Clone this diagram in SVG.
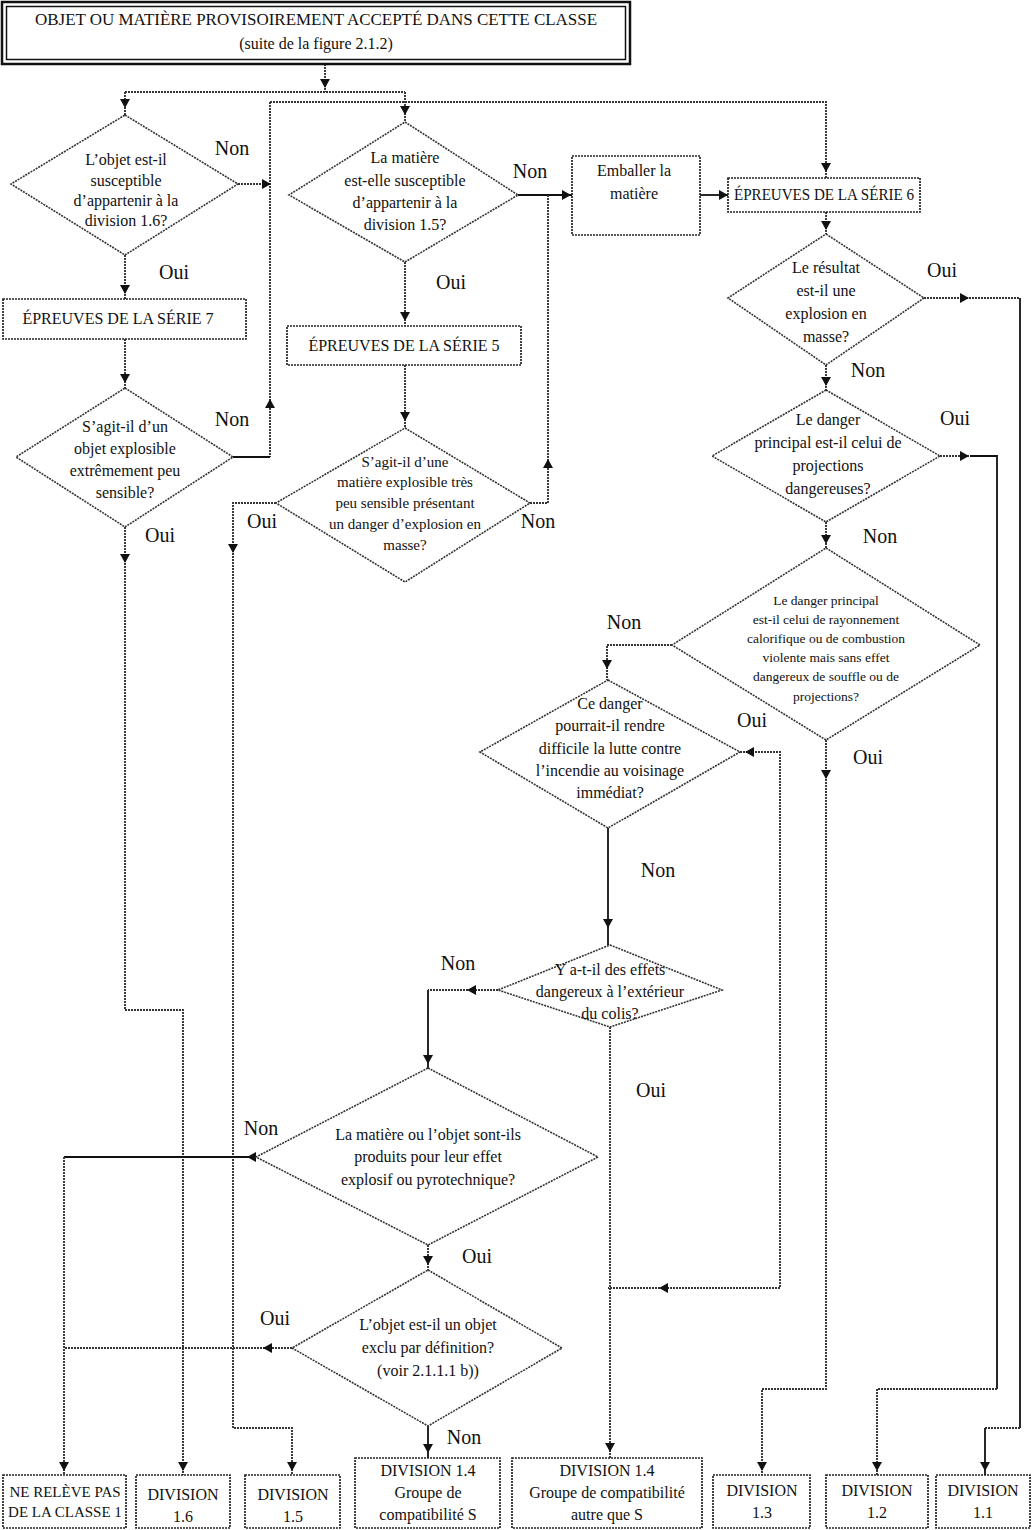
<svg xmlns="http://www.w3.org/2000/svg" xmlns:xlink="http://www.w3.org/1999/xlink" width="1036" height="1530" viewBox="0 0 1036 1530">
<style>
text{font-family:"Liberation Serif","DejaVu Serif",serif;fill:#111;text-anchor:middle}
.t{font-size:16px}
.s{font-size:15px}
.xs{font-size:13.5px}
.lbl{font-size:20px}
.shape{fill:#fff;stroke:#333;stroke-width:1.6;stroke-dasharray:2 1}
.box{fill:#fff;stroke:#222;stroke-width:1.7;stroke-dasharray:2 1}
.c{fill:none;stroke:#333;stroke-width:1.9;stroke-dasharray:2 1}
.cs{fill:none;stroke:#111;stroke-width:1.8}
.ah{fill:#111}
</style>
<defs>
<path id="ad" d="M-5,-8 L5,-8 L0,1 Z"/>
</defs>
<rect width="1036" height="1530" fill="#fff"/>

<g id="connectors">
<path class="c" d="M325,64 V92 M125,92 H405 M125,92 V115 M405,92 V122"/>
<path class="c" d="M270,102 H826 V178 M270,102 V457"/>
<path class="cs" d="M233,457 H270"/>
<path class="c" d="M238,184 H270"/>
<path class="c" d="M125,255 V299"/>
<path class="c" d="M125,339 V388"/>
<path class="c" d="M125,527 V1010 H183 V1475"/>
<path class="c" d="M405,262 V326"/>
<path class="c" d="M405,365 V428"/>
<path class="cs" d="M518,195 H572"/>
<path class="c" d="M530,503 H548 V195"/>
<path class="c" d="M276,503 H233 V1428 H292 V1475"/>
<path class="cs" d="M700,195 H728"/>
<path class="c" d="M826,212 V234"/>
<path class="c" d="M924,298 H1020"/>
<path class="cs" d="M1020,298 V1428"/>
<path class="c" d="M1020,1428 H985"/>
<path class="cs" d="M985,1428 V1475"/>
<path class="c" d="M826,365 V390"/>
<path class="c" d="M940,456 H970"/>
<path class="cs" d="M970,456 H997 V1389"/>
<path class="c" d="M997,1389 H877 V1475"/>
<path class="c" d="M826,522 V548"/>
<path class="c" d="M826,740 V1389 H762 V1475"/>
<path class="c" d="M672,645 H607 V680"/>
<path class="c" d="M740,752 H780 V1288 H608"/>
<path class="cs" d="M608,828 V945"/>
<path class="c" d="M498,990 H428"/>
<path class="cs" d="M428,990 V1068"/>
<path class="c" d="M610,1027 V1458"/>
<path class="cs" d="M255,1157 H64"/>
<path class="c" d="M64,1157 V1475"/>
<path class="c" d="M428,1245 V1270"/>
<path class="c" d="M292,1348 H64"/>
<path class="cs" d="M428,1426 V1458"/>
<!-- arrowheads -->
<use class="ah" xlink:href="#ad" transform="translate(325,87)"/>
<use class="ah" xlink:href="#ad" transform="translate(125,107)"/>
<use class="ah" xlink:href="#ad" transform="translate(405,114)"/>
<use class="ah" xlink:href="#ad" transform="translate(826,171)"/>
<use class="ah" xlink:href="#ad" transform="translate(270,400) rotate(180)"/>
<use class="ah" xlink:href="#ad" transform="translate(270,184) rotate(-90)"/>
<use class="ah" xlink:href="#ad" transform="translate(125,293)"/>
<use class="ah" xlink:href="#ad" transform="translate(125,382)"/>
<use class="ah" xlink:href="#ad" transform="translate(125,562)"/>
<use class="ah" xlink:href="#ad" transform="translate(183,1470)"/>
<use class="ah" xlink:href="#ad" transform="translate(405,320)"/>
<use class="ah" xlink:href="#ad" transform="translate(405,420)"/>
<use class="ah" xlink:href="#ad" transform="translate(570,195) rotate(-90)"/>
<use class="ah" xlink:href="#ad" transform="translate(548,460) rotate(180)"/>
<use class="ah" xlink:href="#ad" transform="translate(233,552)"/>
<use class="ah" xlink:href="#ad" transform="translate(292,1470)"/>
<use class="ah" xlink:href="#ad" transform="translate(727,195) rotate(-90)"/>
<use class="ah" xlink:href="#ad" transform="translate(826,229)"/>
<use class="ah" xlink:href="#ad" transform="translate(968,298) rotate(-90)"/>
<use class="ah" xlink:href="#ad" transform="translate(985,1470)"/>
<use class="ah" xlink:href="#ad" transform="translate(826,385)"/>
<use class="ah" xlink:href="#ad" transform="translate(968,456) rotate(-90)"/>
<use class="ah" xlink:href="#ad" transform="translate(877,1470)"/>
<use class="ah" xlink:href="#ad" transform="translate(826,543)"/>
<use class="ah" xlink:href="#ad" transform="translate(826,778)"/>
<use class="ah" xlink:href="#ad" transform="translate(762,1470)"/>
<use class="ah" xlink:href="#ad" transform="translate(607,668)"/>
<use class="ah" xlink:href="#ad" transform="translate(746,752) rotate(90)"/>
<use class="ah" xlink:href="#ad" transform="translate(660,1288) rotate(90)"/>
<use class="ah" xlink:href="#ad" transform="translate(608,927)"/>
<use class="ah" xlink:href="#ad" transform="translate(468,990) rotate(90)"/>
<use class="ah" xlink:href="#ad" transform="translate(428,1063)"/>
<use class="ah" xlink:href="#ad" transform="translate(610,1451)"/>
<use class="ah" xlink:href="#ad" transform="translate(248,1157) rotate(90)"/>
<use class="ah" xlink:href="#ad" transform="translate(64,1470)"/>
<use class="ah" xlink:href="#ad" transform="translate(428,1264)"/>
<use class="ah" xlink:href="#ad" transform="translate(264,1348) rotate(90)"/>
<use class="ah" xlink:href="#ad" transform="translate(428,1452)"/>
<!-- labels -->
<text class="lbl" x="232" y="155">Non</text>
<text class="lbl" x="174" y="279">Oui</text>
<text class="lbl" x="530" y="178">Non</text>
<text class="lbl" x="451" y="289">Oui</text>
<text class="lbl" x="232" y="426">Non</text>
<text class="lbl" x="160" y="542">Oui</text>
<text class="lbl" x="262" y="528">Oui</text>
<text class="lbl" x="538" y="528">Non</text>
<text class="lbl" x="942" y="277">Oui</text>
<text class="lbl" x="868" y="377">Non</text>
<text class="lbl" x="955" y="425">Oui</text>
<text class="lbl" x="880" y="543">Non</text>
<text class="lbl" x="624" y="629">Non</text>
<text class="lbl" x="868" y="764">Oui</text>
<text class="lbl" x="752" y="727">Oui</text>
<text class="lbl" x="658" y="877">Non</text>
<text class="lbl" x="458" y="970">Non</text>
<text class="lbl" x="651" y="1097">Oui</text>
<text class="lbl" x="261" y="1135">Non</text>
<text class="lbl" x="477" y="1263">Oui</text>
<text class="lbl" x="275" y="1325">Oui</text>
<text class="lbl" x="464" y="1444">Non</text>
</g>

<g id="title">
<rect x="2" y="2" width="628" height="62" fill="#fff" stroke="#111" stroke-width="2.5"/>
<rect x="6.5" y="6.5" width="619" height="53" fill="none" stroke="#111" stroke-width="1.5"/>
<text class="t" x="316" y="25" textLength="562" lengthAdjust="spacingAndGlyphs">OBJET OU MATIÈRE PROVISOIREMENT ACCEPTÉ DANS CETTE CLASSE</text>
<text class="t" x="316" y="49">(suite de la figure 2.1.2)</text>
</g>

<g id="q16">
<polygon class="shape" points="125,115 238,184 125,255 11,184"/>
<text class="t" x="126" y="165">L’objet est-il</text>
<text class="t" x="126" y="186">susceptible</text>
<text class="t" x="126" y="206">d’appartenir à la</text>
<text class="t" x="126" y="226">division 1.6?</text>
</g>

<g id="q15">
<polygon class="shape" points="405,122 518,195 405,262 289,195"/>
<text class="t" x="405" y="163">La matière</text>
<text class="t" x="405" y="186">est-elle susceptible</text>
<text class="t" x="405" y="208">d’appartenir à la</text>
<text class="t" x="405" y="230">division 1.5?</text>
</g>

<g id="s7">
<rect class="box" x="3" y="299" width="243" height="40"/>
<text class="t" x="118" y="324">ÉPREUVES DE LA SÉRIE 7</text>
</g>

<g id="s5">
<rect class="box" x="287" y="326" width="234" height="39"/>
<text class="t" x="404" y="351">ÉPREUVES DE LA SÉRIE 5</text>
</g>

<g id="emballer">
<rect class="box" x="572" y="156" width="128" height="79"/>
<text class="t" x="634" y="176">Emballer la</text>
<text class="t" x="634" y="199">matière</text>
</g>

<g id="s6">
<rect class="box" x="728" y="178" width="192" height="34"/>
<text class="t" x="824" y="200" textLength="180" lengthAdjust="spacingAndGlyphs">ÉPREUVES DE LA SÉRIE 6</text>
</g>

<g id="qpeu">
<polygon class="shape" points="125,388 233,457 125,527 16,457"/>
<text class="t" x="125" y="432">S’agit-il d’un</text>
<text class="t" x="125" y="454">objet explosible</text>
<text class="t" x="125" y="476">extrêmement peu</text>
<text class="t" x="125" y="498">sensible?</text>
</g>

<g id="qtres">
<polygon class="shape" points="405,428 530,503 405,582 276,503"/>
<text class="s" x="405" y="467">S’agit-il d’une</text>
<text class="s" x="405" y="487">matière explosible très</text>
<text class="s" x="405" y="508">peu sensible présentant</text>
<text class="s" x="405" y="529">un danger d’explosion en</text>
<text class="s" x="405" y="550">masse?</text>
</g>

<g id="qmasse">
<polygon class="shape" points="826,234 924,298 826,365 728,298"/>
<text class="t" x="826" y="273">Le résultat</text>
<text class="t" x="826" y="296">est-il une</text>
<text class="t" x="826" y="319">explosion en</text>
<text class="t" x="826" y="342">masse?</text>
</g>

<g id="qproj">
<polygon class="shape" points="826,390 940,456 826,522 712,456"/>
<text class="t" x="828" y="425">Le danger</text>
<text class="t" x="828" y="448">principal est-il celui de</text>
<text class="t" x="828" y="471">projections</text>
<text class="t" x="828" y="494">dangereuses?</text>
</g>

<g id="qray">
<polygon class="shape" points="826,548 980,645 826,740 672,645"/>
<text class="xs" x="826" y="605">Le danger principal</text>
<text class="xs" x="826" y="624">est-il celui de rayonnement</text>
<text class="xs" x="826" y="643">calorifique ou de combustion</text>
<text class="xs" x="826" y="662">violente mais sans effet</text>
<text class="xs" x="826" y="681">dangereux de souffle ou de</text>
<text class="xs" x="826" y="701">projections?</text>
</g>

<g id="qinc">
<polygon class="shape" points="608,680 740,752 608,828 480,752"/>
<text class="t" x="610" y="709">Ce danger</text>
<text class="t" x="610" y="731">pourrait-il rendre</text>
<text class="t" x="610" y="754">difficile la lutte contre</text>
<text class="t" x="610" y="776">l’incendie au voisinage</text>
<text class="t" x="610" y="798">immédiat?</text>
</g>

<g id="qcolis">
<polygon class="shape" points="610,945 722,990 610,1027 498,990"/>
<text class="t" x="610" y="975">Y a-t-il des effets</text>
<text class="t" x="610" y="997">dangereux à l’extérieur</text>
<text class="t" x="610" y="1019">du colis?</text>
</g>

<g id="qpyro">
<polygon class="shape" points="428,1068 598,1157 428,1245 256,1157"/>
<text class="t" x="428" y="1140">La matière ou l’objet sont-ils</text>
<text class="t" x="428" y="1162">produits pour leur effet</text>
<text class="t" x="428" y="1185">explosif ou pyrotechnique?</text>
</g>

<g id="qexclu">
<polygon class="shape" points="428,1270 562,1348 428,1426 292,1348"/>
<text class="t" x="428" y="1330">L’objet est-il un objet</text>
<text class="t" x="428" y="1353">exclu par définition?</text>
<text class="t" x="428" y="1376">(voir 2.1.1.1 b))</text>
</g>

<g id="nrp">
<rect class="box" x="3" y="1475" width="123" height="53"/>
<text class="s" x="65" y="1497">NE RELÈVE PAS</text>
<text class="s" x="65" y="1517">DE LA CLASSE 1</text>
</g>
<g id="d16">
<rect class="box" x="136" y="1475" width="94" height="53"/>
<text class="t" x="183" y="1500">DIVISION</text>
<text class="t" x="183" y="1522">1.6</text>
</g>
<g id="d15">
<rect class="box" x="245" y="1475" width="95" height="53"/>
<text class="t" x="293" y="1500">DIVISION</text>
<text class="t" x="293" y="1522">1.5</text>
</g>
<g id="d14s">
<rect class="box" x="355" y="1458" width="145" height="70"/>
<text class="t" x="428" y="1476">DIVISION 1.4</text>
<text class="t" x="428" y="1498">Groupe de</text>
<text class="t" x="428" y="1520">compatibilité S</text>
</g>
<g id="d14">
<rect class="box" x="512" y="1458" width="190" height="70"/>
<text class="t" x="607" y="1476">DIVISION 1.4</text>
<text class="t" x="607" y="1498">Groupe de compatibilité</text>
<text class="t" x="607" y="1520">autre que S</text>
</g>
<g id="d13">
<rect class="box" x="713" y="1475" width="97" height="53"/>
<text class="t" x="762" y="1496">DIVISION</text>
<text class="t" x="762" y="1518">1.3</text>
</g>
<g id="d12">
<rect class="box" x="826" y="1475" width="102" height="53"/>
<text class="t" x="877" y="1496">DIVISION</text>
<text class="t" x="877" y="1518">1.2</text>
</g>
<g id="d11">
<rect class="box" x="936" y="1475" width="94" height="53"/>
<text class="t" x="983" y="1496">DIVISION</text>
<text class="t" x="983" y="1518">1.1</text>
</g>
</svg>
